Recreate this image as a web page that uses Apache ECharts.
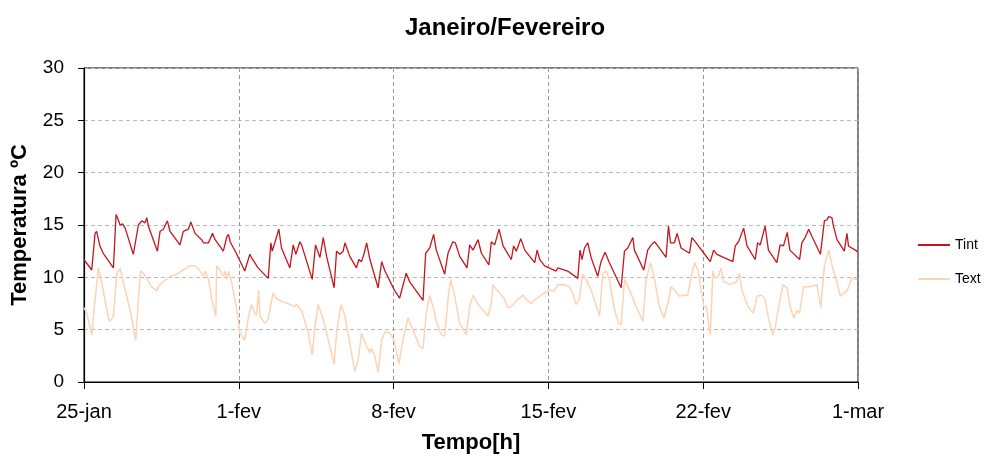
<!DOCTYPE html>
<html><head><meta charset="utf-8">
<script src="https://cdn.jsdelivr.net/npm/echarts@6/dist/echarts.min.js"></script>
<style>html,body{margin:0;padding:0;background:#fff}#c{width:992px;height:456px}</style>
</head><body><div id="c"></div>
<script>
// x = days since 25-jan
const xTickLabels = ['25-jan','1-fev','8-fev','15-fev','22-fev','1-mar'];
const yTicks = [0,5,10,15,20,25,30];
const tintDays = [0,0.35,0.5,0.57,0.72,0.87,1.33,1.45,1.55,1.63,1.75,1.86,2.23,2.46,2.61,2.76,2.84,2.91,3.32,3.44,3.59,3.77,3.89,4.34,4.49,4.72,4.83,5.02,5.32,5.40,5.63,5.81,5.93,6.30,6.46,6.53,6.61,6.91,
7.0,7.27,7.50,7.57,7.87,8.33,8.45,8.51,8.63,8.81,8.93,9.31,9.46,9.58,9.76,9.84,10.32,10.47,10.67,10.82,10.97,11.31,11.42,11.57,11.72,11.80,12.02,12.32,12.43,12.55,12.67,12.78,12.93,13.30,13.46,13.61,14.03,
14.27,14.57,14.72,15.33,15.45,15.63,15.81,15.93,16.31,16.46,16.68,16.79,16.99,17.32,17.44,17.59,17.82,17.97,18.31,18.42,18.57,18.77,18.95,19.32,19.43,19.55,19.75,19.93,20.38,20.49,20.61,20.83,21.03,
21.35,21.42,21.87,22.33,22.43,22.52,22.63,22.78,22.93,23.23,23.38,23.56,23.76,24.29,24.44,24.59,24.82,24.89,25.31,25.49,25.65,25.80,25.95,26.32,26.43,26.52,26.70,26.82,27.00,27.38,27.49,27.68,28.03,
28.32,28.47,28.62,28.92,29.34,29.45,29.60,29.83,29.98,30.35,30.46,30.58,30.80,30.95,31.33,31.48,31.63,31.80,31.92,32.36,32.46,32.61,32.77,32.92,33.30,33.48,33.60,33.67,33.82,33.89,34.05,34.38,34.50,34.57,34.95,35];
const tintVals = [11.7,10.7,14.2,14.4,13.0,12.3,10.9,16.0,15.5,15.0,15.1,14.7,12.2,15.0,15.4,15.2,15.7,14.9,12.5,14.4,14.6,15.4,14.4,13.1,14.4,14.6,15.3,14.2,13.6,13.3,13.3,14.2,13.6,12.5,13.9,14.1,13.4,12.2,
12.3,10.6,12.2,11.9,10.9,9.9,13.3,12.5,13.3,14.6,12.8,10.9,13.1,12.2,13.4,13.1,9.8,13.1,11.9,13.8,12.0,9.0,12.5,12.2,12.5,13.3,12.0,10.9,11.7,11.5,12.3,13.3,11.7,9.0,11.5,10.6,8.8,
8.0,10.4,9.6,7.8,12.3,12.8,14.1,12.6,10.3,12.3,13.4,13.3,12.0,10.9,13.1,12.6,13.6,12.3,11.2,13.4,13.1,14.6,13.0,11.7,13.0,12.5,13.7,12.6,11.4,12.6,11.7,11.1,10.9,
10.6,10.9,10.6,9.9,12.6,11.7,12.8,13.3,11.9,10.1,11.5,12.4,11.4,9.0,12.5,12.8,13.8,12.6,10.7,12.6,13.1,13.4,13.0,11.9,14.9,13.3,13.3,14.2,12.8,12.3,13.8,13.3,12.3,
11.5,12.6,12.2,11.9,11.5,13.0,13.4,14.7,13.0,11.7,13.3,13.1,14.9,12.6,11.4,13.1,13.0,14.3,12.6,11.7,13.3,13.8,14.6,13.9,12.2,15.4,15.5,15.8,15.7,14.9,13.6,12.5,14.2,13.0,12.5,12.4];
const textDays = [0,0.12,0.35,0.50,0.65,0.80,1.03,1.15,1.25,1.33,1.48,1.63,1.78,2.08,2.23,2.34,2.46,2.56,2.68,2.84,3.06,3.29,3.36,3.59,3.89,4.19,4.49,4.80,5.02,5.25,5.40,5.48,5.63,5.78,5.96,6.00,6.15,6.30,6.38,6.46,6.53,6.68,6.91,
7.05,7.27,7.42,7.57,7.72,7.80,7.90,7.95,8.18,8.33,8.55,8.70,8.93,9.23,9.53,9.61,9.84,10.14,10.32,10.44,10.59,10.82,11.12,11.31,11.42,11.62,11.80,12.02,12.25,12.40,12.55,12.63,12.78,12.93,13.00,13.15,13.30,13.46,13.61,13.83,14.03,
14.24,14.42,14.65,14.87,15.18,15.33,15.48,15.63,15.78,15.93,16.16,16.31,16.46,16.58,16.76,16.99,17.29,17.44,17.59,17.82,18.04,18.27,18.42,18.49,18.65,18.80,19.02,19.17,19.32,19.63,19.85,20.00,20.23,20.46,20.68,21.03,
21.27,21.42,21.72,21.95,22.10,22.25,22.40,22.55,22.70,22.93,23.31,23.46,23.61,23.76,23.99,24.17,24.29,24.44,24.67,24.97,25.27,25.42,25.62,25.80,26.02,26.22,26.40,26.55,26.70,26.93,27.15,27.30,27.46,27.61,27.76,28.03,
28.14,28.32,28.44,28.54,28.69,28.80,28.92,29.22,29.52,29.64,29.75,29.90,30.05,30.28,30.43,30.65,30.80,30.95,31.15,31.26,31.41,31.61,31.79,31.94,32.09,32.24,32.36,32.54,32.84,33.14,33.32,33.48,33.67,33.82,34.05,34.20,34.50,34.72,34.95];
const textVals = [7.1,6.6,4.5,7.9,10.9,9.5,6.9,5.8,6.0,6.3,10.3,10.9,9.5,6.9,5.3,4.0,7.9,10.6,10.4,9.9,9.1,8.7,9.1,9.6,10.1,10.3,10.7,11.1,11.1,10.6,10.1,10.6,9.8,7.9,6.3,11.1,10.7,10.1,10.6,9.8,10.6,9.5,6.9,
4.7,4.0,6.0,7.4,6.6,6.4,8.8,6.3,5.6,6.0,8.5,8.0,7.7,7.5,7.2,7.4,6.8,4.7,2.6,5.3,7.4,6.0,3.4,1.7,4.7,7.4,6.3,3.7,1.0,2.1,4.7,4.8,3.4,2.8,3.2,2.5,0.9,4.0,4.8,4.7,3.9,
1.7,4.0,6.1,5.0,3.4,3.2,6.6,8.3,7.2,5.8,4.5,4.4,7.9,9.8,8.2,5.6,4.5,7.2,8.3,7.4,6.9,6.3,7.5,9.3,8.8,8.5,7.9,7.1,7.2,7.9,8.3,7.9,7.5,8.0,8.3,8.8,
8.7,9.3,9.3,9.1,8.5,7.4,7.9,10.3,9.8,8.8,6.3,10.4,10.6,9.8,6.9,5.6,5.5,9.8,8.8,7.2,5.8,9.8,11.4,9.8,7.2,6.1,7.5,9.1,8.8,8.2,8.3,8.3,10.1,11.4,10.7,7.2,
7.2,4.5,10.6,9.9,10.1,10.9,9.6,9.3,9.6,10.4,8.8,7.9,7.1,6.6,8.2,8.3,7.9,6.1,4.5,5.2,7.2,9.3,9.0,7.2,6.1,6.8,6.6,9.1,9.1,9.3,7.1,11.1,12.6,11.2,9.5,8.2,8.7,9.9,9.8];

const tint = tintDays.map((d,i)=>[d,tintVals[i]]);
const text = textDays.map((d,i)=>[d,textVals[i]]);

const chart = echarts.init(document.getElementById('c'), null, {renderer:'canvas'});
const fontFam = '"Liberation Sans", Arial, sans-serif';
chart.setOption({
  animation:false,
  backgroundColor:'#fff',
  title:{text:'Janeiro/Fevereiro', left:500, top:11, textAlign:'center',
    textStyle:{fontFamily:fontFam, fontSize:24, fontWeight:'bold', color:'#000'}},
  grid:{left:84, right:134, top:68, bottom:74, show:true, borderColor:'#000', borderWidth:1,
    backgroundColor:'transparent', containLabel:false, outerBoundsMode:'none'},
  legend:{orient:'vertical', left:913, top:233, itemWidth:32, itemHeight:2, itemGap:20, icon:'rect',
    textStyle:{fontFamily:fontFam, fontSize:14, color:'#000'},
    data:['Tint','Text']},
  xAxis:{type:'value', min:0, max:35, interval:7,
    name:'Tempo[h]', nameLocation:'middle', nameGap:50,
    nameTextStyle:{fontFamily:fontFam, fontSize:22, fontWeight:'bold', color:'#000'},
    axisLine:{lineStyle:{color:'#000', width:1.2}},
    axisTick:{show:true, length:7, lineStyle:{color:'#000'}},
    axisLabel:{fontFamily:fontFam, fontSize:20, color:'#000', margin:20,
      formatter:(v)=>xTickLabels[Math.round(v/7)]},
    splitLine:{show:true, lineStyle:{color:'#999', type:[4,3], width:1}}},
  yAxis:{type:'value', min:0, max:30, interval:5,
    name:'Temperatura ºC', nameLocation:'middle', nameGap:53,
    nameTextStyle:{fontFamily:fontFam, fontSize:22, fontWeight:'bold', color:'#000'},
    axisLine:{show:true, lineStyle:{color:'#000', width:1.2}},
    axisTick:{show:true, length:6, lineStyle:{color:'#000'}},
    axisLabel:{fontFamily:fontFam, fontSize:19, color:'#000', margin:20,
      formatter:(v)=>yTicks.includes(v)?String(v):''},
    splitLine:{show:true, lineStyle:{color:'#bbb', type:[4,3], width:1}}},
  series:[
    {name:'Text', type:'line', data:text, showSymbol:false, symbol:'none', z:2,
      lineStyle:{color:'#fcd3b4', width:1.5}, itemStyle:{color:'#fcd3b4'}},
    {name:'Tint', type:'line', data:tint, showSymbol:false, symbol:'none', z:3,
      lineStyle:{color:'#c4161c', width:1.3}, itemStyle:{color:'#c4161c'}}
  ]
});
</script></body></html>
